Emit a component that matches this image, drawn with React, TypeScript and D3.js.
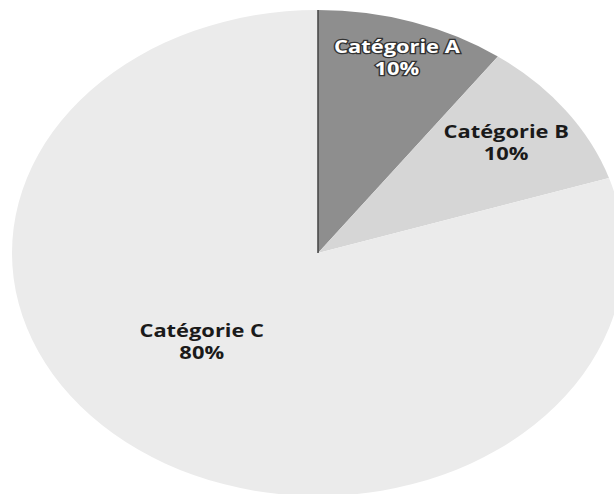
import React from "react";
import * as d3 from "d3";

const categories = ["Catégorie A", "Catégorie B", "Catégorie C"];
const values = [10, 10, 80];
const percentLabels = ["10%", "10%", "80%"];

const W = 614;
const H = 494;
const CX = 318;
const CY = 253;
const RX = 306;
const RY = 243;
const FILLS = ["#8e8e8e", "#d6d6d6", "#ebebeb"];
const TEXT_FILL = ["#ffffff", "#1a1a1a", "#1a1a1a"];
const TEXT_STROKE = ["#333333", "none", "none"];
// label anchor: [radius fraction along x, radius fraction along y] in unit-circle coords
const LABEL_POS: [number, number][] = [
  [0.258, -0.81],
  [0.615, -0.46],
  [-0.38, 0.36],
];

export default function App() {
  const pie = d3.pie<number>().sort(null).value((d) => d);
  const arcs = pie(values);
  const arc = d3.arc<d3.PieArcDatum<number>>().innerRadius(0).outerRadius(RY);
  const sx = RX / RY;
  return (
    <svg
      width={W}
      height={H}
      style={{ position: "absolute", left: 0, top: 0, background: "#fff" }}
    >
      <g transform={`translate(${CX},${CY}) scale(${sx},1)`}>
        {arcs.map((a, i) => (
          <path key={i} d={arc(a) || ""} fill={FILLS[i]} />
        ))}
        <line x1={0} y1={0} x2={0} y2={-RY} stroke="#444" strokeWidth={1.2} />
      </g>
      {arcs.map((a, i) => {
        const x = CX + LABEL_POS[i][0] * RX;
        const y = CY + LABEL_POS[i][1] * RY;
        return (
          <g key={i} transform={`translate(${x},${y}) scale(1.25,1)`}>
            <text
              textAnchor="middle"
              fontFamily="'Open Sans', sans-serif"
              fontWeight="bold"
              fontSize={17.5}
              fill={TEXT_FILL[i]}
              stroke={TEXT_STROKE[i]}
              strokeWidth={TEXT_STROKE[i] === "none" ? 0 : 2.5}
              paintOrder="stroke"
            >
              <tspan x={0} dy={-3}>{categories[i]}</tspan>
              <tspan x={0} dy={22}>{percentLabels[i]}</tspan>
            </text>
          </g>
        );
      })}
    </svg>
  );
}
